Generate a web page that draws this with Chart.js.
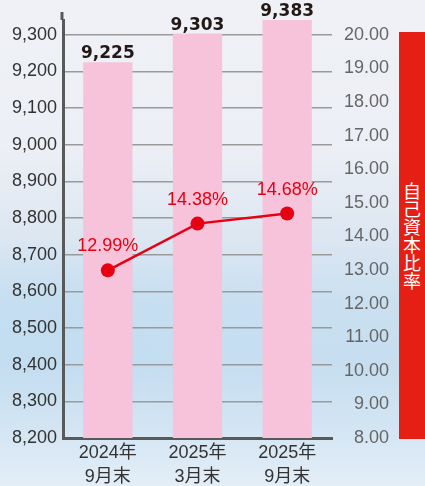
<!DOCTYPE html>
<html lang="ja">
<head>
<meta charset="utf-8">
<script src="https://cdn.jsdelivr.net/npm/chart.js@4.4.1/dist/chart.umd.min.js"></script>
<style>
  html, body {
    margin: 0;
    padding: 0;
  }
  body {
    width: 425px;
    height: 486px;
    overflow: hidden;
    position: relative;
    background:
      radial-gradient(ellipse 260px 90px at 60px 330px, rgba(190, 220, 240, 0.55), rgba(190, 220, 240, 0) 100%),
      linear-gradient(180deg, #eff1f6 0%, #eceff5 30%, #dde7f2 48%, #cae0f0 62%, #c6def0 75%, #d3e5f3 88%, #e3eef7 100%);
  }
  #chartBox {
    position: absolute;
    left: 0;
    top: 0;
    width: 425px;
    height: 486px;
  }
  .ratio-banner {
    position: absolute;
    left: 399px;
    top: 32px;
    width: 26px;
    height: 407px;
    background: #e61f14;
    color: #ffffff;
    font-family: "Noto Sans CJK JP", sans-serif;
    font-size: 18px;
    writing-mode: vertical-rl;
    display: flex;
    align-items: center;
    justify-content: center;
    line-height: 26px;
  }
</style>
</head>
<body>
<canvas id="chartBox" width="425" height="486"></canvas>
<div class="ratio-banner">自己資本比率</div>
<script>
const categories = [["2024年", "9月末"], ["2025年", "3月末"], ["2025年", "9月末"]];
const amountValues = [9225, 9303, 9383];
const ratioValues = [12.99, 14.38, 14.68];
const amountTicks = [8200, 8300, 8400, 8500, 8600, 8700, 8800, 8900, 9000, 9100, 9200, 9300];
const ratioTicks = [8, 9, 10, 11, 12, 13, 14, 15, 16, 17, 18, 19, 20];

const fontFamily = "'Liberation Sans', 'Noto Sans CJK JP', sans-serif";
const redColor = "#e60012";

const valueLabelsPlugin = {
  id: "valueLabels",
  afterDatasetsDraw(chart) {
    const { ctx, chartArea } = chart;
    ctx.save();

    // little bit of the left axis line that sticks out above the plot
    ctx.strokeStyle = "#5a5a5a";
    ctx.lineWidth = 3;
    ctx.beginPath();
    ctx.moveTo(chartArea.left - 1, chartArea.top);
    ctx.lineTo(chartArea.left - 1, chartArea.top - 8);
    ctx.stroke();

    ctx.textAlign = "center";
    ctx.textBaseline = "alphabetic";

    const barMeta = chart.getDatasetMeta(1);
    ctx.font = `bold 17px 'DejaVu Sans', sans-serif`;
    ctx.fillStyle = "#231815";
    barMeta.data.forEach((bar, i) => {
      const top = Math.max(bar.y, chartArea.top);
      ctx.fillText(amountValues[i].toLocaleString("en-US"), bar.x, top - 4);
    });

    const lineMeta = chart.getDatasetMeta(0);
    ctx.font = `18px ${fontFamily}`;
    ctx.fillStyle = redColor;
    lineMeta.data.forEach((point, i) => {
      ctx.fillText(`${ratioValues[i].toFixed(2)}%`, point.x, point.y - 19);
    });

    ctx.restore();
  }
};

new Chart(document.getElementById("chartBox"), {
  data: {
    labels: categories,
    datasets: [
      {
        type: "line",
        label: "自己資本比率",
        data: ratioValues,
        yAxisID: "yRatio",
        borderColor: redColor,
        backgroundColor: redColor,
        borderWidth: 2.5,
        pointRadius: 7,
        pointBorderWidth: 0,
        tension: 0,
        order: 1
      },
      {
        type: "bar",
        label: "純資産",
        data: amountValues,
        yAxisID: "yAmount",
        backgroundColor: "#f6c3da",
        barPercentage: 0.55,
        categoryPercentage: 1,
        order: 2
      }
    ]
  },
  options: {
    responsive: false,
    animation: false,
    devicePixelRatio: 1,
    layout: {
      padding: { top: 20, left: 10, right: 36, bottom: 0 }
    },
    plugins: {
      legend: { display: false },
      tooltip: { enabled: false }
    },
    scales: {
      x: {
        grid: { display: false, drawTicks: false },
        border: { display: true, color: "#595959", width: 3 },
        ticks: {
          color: "#333333",
          padding: 3,
          font: { family: fontFamily, size: 18, lineHeight: 1.33 }
        },
        afterFit(scale) {
          scale.height = 48;
        }
      },
      yAmount: {
        position: "left",
        min: 8200,
        max: 9340,
        afterBuildTicks(scale) {
          scale.ticks = amountTicks.map((value) => ({ value }));
        },
        grid: { color: "#9a9a9a", lineWidth: 1.5, drawTicks: false },
        border: { display: true, color: "#595959", width: 3 },
        ticks: {
          color: "#333333",
          padding: 6,
          font: { family: fontFamily, size: 18 },
          callback: (value) => value.toLocaleString("en-US")
        },
        afterFit(scale) {
          scale.width = 53;
        }
      },
      yRatio: {
        position: "right",
        min: 8,
        max: 20.44,
        afterBuildTicks(scale) {
          scale.ticks = ratioTicks.map((value) => ({ value }));
        },
        grid: { display: false, drawTicks: false },
        border: { display: false },
        ticks: {
          color: "#666666",
          crossAlign: "far",
          font: { family: fontFamily, size: 18 },
          callback: (value) => Number(value).toFixed(2)
        },
        afterFit(scale) {
          scale.width = 57;
        }
      }
    }
  },
  plugins: [valueLabelsPlugin]
});
</script>
</body>
</html>
